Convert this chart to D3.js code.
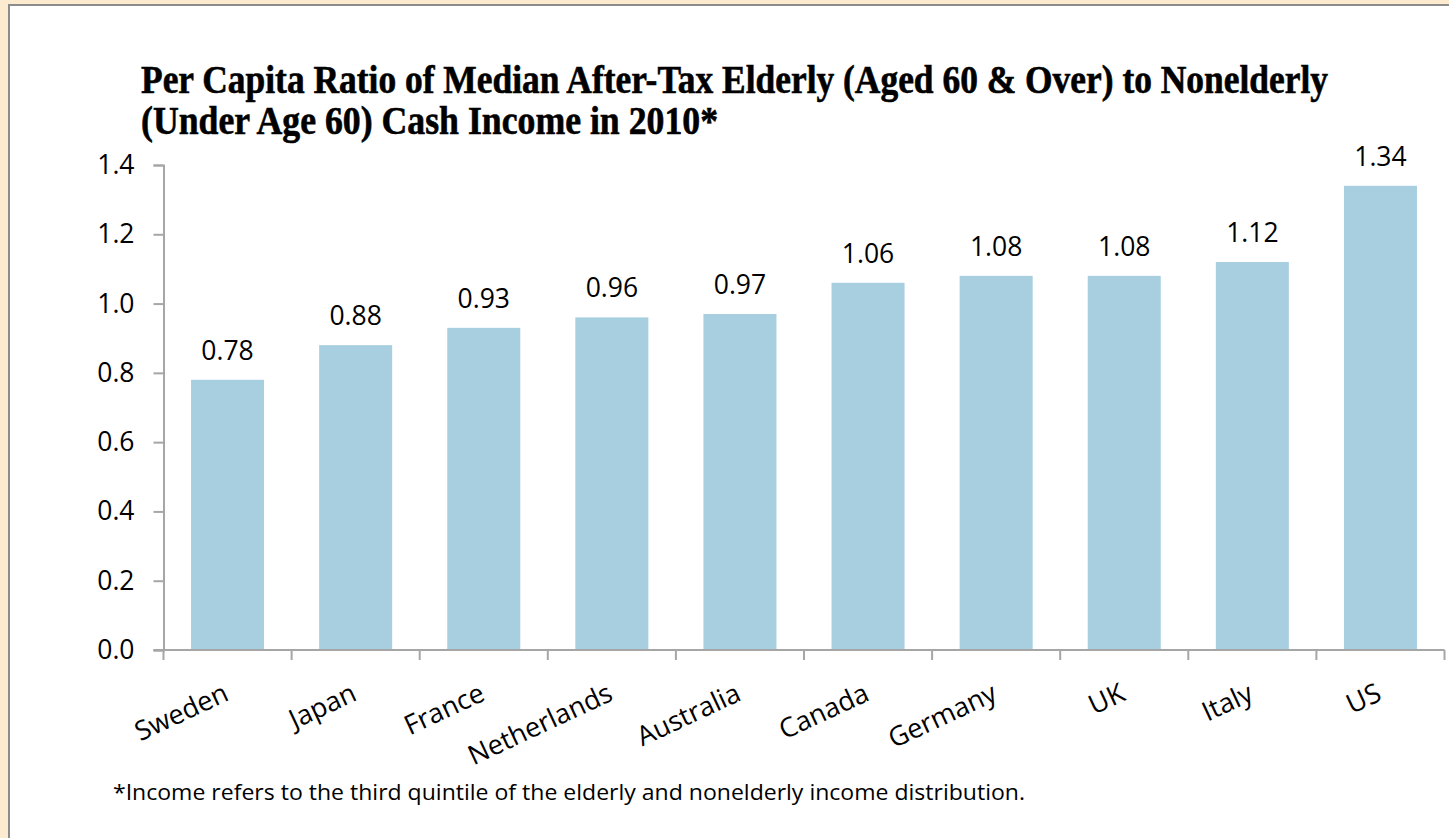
<!DOCTYPE html>
<html>
<head>
<meta charset="utf-8">
<script src="https://cdn.jsdelivr.net/npm/d3@7"></script>
<style>
  html, body { margin: 0; padding: 0; background: #FDEBD0; }
  svg { display: block; }
</style>
</head>
<body>
<svg id="chart" width="1449" height="838"></svg>
<script>
// Elderly-to-nonelderly median income ratios, 2010
const countries = ["Sweden", "Japan", "France", "Netherlands", "Australia", "Canada", "Germany", "UK", "Italy", "US"];
const ratios = [0.78, 0.88, 0.93, 0.96, 0.97, 1.06, 1.08, 1.08, 1.12, 1.34];
const yTicks = [0.0, 0.2, 0.4, 0.6, 0.8, 1.0, 1.2, 1.4];
const titleLines = [
  "Per Capita Ratio of Median After-Tax Elderly (Aged 60 & Over) to Nonelderly",
  "(Under Age 60) Cash Income in 2010*"
];
const footnote = "*Income refers to the third quintile of the elderly and nonelderly income distribution.";

const svg = d3.select("#chart");
const W = 1449, H = 838;

// panel
svg.append("rect").attr("x", 0).attr("y", 0).attr("width", W).attr("height", H).attr("fill", "#FDEBD0");
svg.append("rect").attr("x", 9).attr("y", 5).attr("width", W + 10).attr("height", H + 10)
  .attr("fill", "#ffffff").attr("stroke", "#8c8c8c").attr("stroke-width", 2);

const plotLeft = 163.5, plotRight = 1444.5, plotTop = 165, plotBottom = 650;

const x = d3.scaleBand().domain(countries).range([plotLeft, plotRight]).paddingInner(0.43).paddingOuter(0.215);
const y = d3.scaleLinear().domain([0, 1.4]).range([plotBottom, plotTop]);

const labelFont = "'Open Sans', sans-serif";

// bars
svg.append("g").selectAll("rect").data(countries).join("rect")
  .attr("x", d => x(d))
  .attr("width", x.bandwidth())
  .attr("y", (d, i) => y(ratios[i]))
  .attr("height", (d, i) => y(0) - y(ratios[i]))
  .attr("fill", "#A7CFE0");

// value labels
svg.append("g").selectAll("text").data(countries).join("text")
  .attr("x", d => x(d) + x.bandwidth() / 2)
  .attr("y", (d, i) => y(ratios[i]) - 20)
  .attr("text-anchor", "middle")
  .attr("font-family", labelFont).attr("font-size", 26.5).attr("fill", "#000")
  .text((d, i) => ratios[i].toFixed(2));

// y axis
const yAxis = svg.append("g").attr("transform", `translate(${plotLeft},0)`)
  .call(d3.axisLeft(y).tickValues(yTicks).tickFormat(d3.format(".1f")).tickSize(10).tickPadding(19));
yAxis.select(".domain").attr("stroke", "#a6a6a6").attr("stroke-width", 2);
yAxis.selectAll(".tick line").attr("stroke", "#a6a6a6").attr("stroke-width", 2);
yAxis.selectAll(".tick text").attr("font-family", labelFont).attr("font-size", 26.5).attr("fill", "#000");

// x axis: ticks at band boundaries
const bounds = d3.range(countries.length + 1).map(i => plotLeft + i * x.step());
const xg = svg.append("g");
xg.append("line").attr("x1", plotLeft - 10).attr("x2", plotRight).attr("y1", plotBottom).attr("y2", plotBottom)
  .attr("stroke", "#a6a6a6").attr("stroke-width", 2);
xg.selectAll("line.tk").data(bounds).join("line").attr("class", "tk")
  .attr("x1", d => d).attr("x2", d => d).attr("y1", plotBottom).attr("y2", plotBottom + 10)
  .attr("stroke", "#a6a6a6").attr("stroke-width", 2);

// category labels, rotated
xg.selectAll("text").data(countries).join("text")
  .attr("transform", d => `translate(${x(d) + x.bandwidth() / 2 - 6},681) rotate(-25)`)
  .attr("text-anchor", "end")
  .attr("dy", "0.76em")
  .attr("font-family", labelFont).attr("font-size", 27).attr("fill", "#000")
  .text(d => d);

// title
svg.append("g").selectAll("text").data(titleLines).join("text")
  .attr("x", 141)
  .attr("y", (d, i) => 93 + i * 41)
  .attr("font-family", "'Liberation Serif', serif").attr("font-weight", "bold")
  .attr("font-size", 39).attr("fill", "#000")
  .attr("stroke", "#000").attr("stroke-width", 0.6)
  .attr("textLength", (d, i) => i === 0 ? 1187 : 577)
  .attr("lengthAdjust", "spacingAndGlyphs")
  .text(d => d);

// footnote
svg.append("text").attr("x", 113).attr("y", 800)
  .attr("font-family", labelFont).attr("font-size", 21).attr("fill", "#000")
  .attr("textLength", 912).attr("lengthAdjust", "spacingAndGlyphs")
  .text(footnote);
</script>
</body>
</html>
